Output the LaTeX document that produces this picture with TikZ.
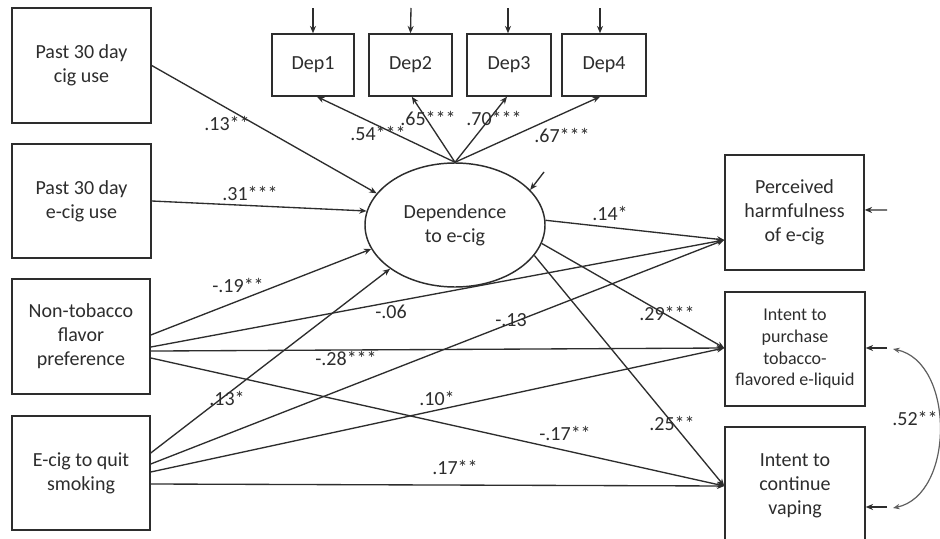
\documentclass[tikz,border=0pt]{standalone}
\usepackage{fontspec}
\setmainfont{Carlito}
\usetikzlibrary{arrows.meta,shapes.geometric}
\definecolor{ink}{RGB}{45,45,45}
\definecolor{curvegray}{RGB}{95,95,95}
\begin{document}
\begin{tikzpicture}[x=0.75pt,y=-0.75pt,
  box/.style={draw=ink, line width=1.1pt, align=center, inner sep=0pt, text=ink,
    font=\fontsize{15}{18}\selectfont},
  smallbox/.style={box, font=\fontsize{13.5}{16.3}\selectfont},
  lbl/.style={text=ink, inner sep=1pt, font=\fontsize{15}{18}\selectfont},
  arr/.style={draw=ink, line width=1pt, -{Stealth[length=5.5pt,width=4.5pt]}},
  dbl/.style={draw=curvegray, line width=0.9pt, {Stealth[length=5pt,width=4pt]}-{Stealth[length=5pt,width=4pt]}}]
\useasboundingbox (0,0) rectangle (940,539);
\clip (0,0) rectangle (940,539);
\fill[white] (0,0) rectangle (940,539);

% left boxes
\node[box, minimum width=104.25pt, minimum height=86.25pt] (b1) at (81.5,65.5) {Past 30 day\\cig use};
\node[box, minimum width=104.25pt, minimum height=85.5pt] (b2) at (81.5,201) {Past 30 day\\e-cig use};
\node[box, minimum width=103.5pt, minimum height=86.25pt] (b3) at (81,336.5) {Non-tobacco\\flavor\\preference};
\node[box, minimum width=103.5pt, minimum height=85.5pt] (b4) at (81,473) {E-cig to quit\\smoking};

% indicator boxes
\node[box, minimum width=61.5pt, minimum height=46.5pt] (d1) at (313,65) {Dep1};
\node[box, minimum width=62.25pt, minimum height=46.5pt] (d2) at (410.5,65) {Dep2};
\node[box, minimum width=63pt, minimum height=46.5pt] (d3) at (509,65) {Dep3};
\node[box, minimum width=63pt, minimum height=46.5pt] (d4) at (604,65) {Dep4};

% latent
\node[box, ellipse, minimum width=135pt, minimum height=93pt] (ell) at (455,225) {Dependence\\to e-cig};

% outcomes
\node[box, minimum width=104.25pt, minimum height=86.25pt] (perc) at (794.5,212.5) {Perceived\\harmfulness\\of e-cig};
\node[smallbox, minimum width=105pt, minimum height=85.5pt] (purch) at (795,349) {Intent to\\purchase\\tobacco-\\flavored e-liquid};
\node[box, minimum width=105pt, minimum height=88.5pt] (cont) at (795,486) {Intent to\\continue\\vaping};

% residual free ends
\coordinate (r1) at (313,8);
\coordinate (r2) at (411,8);
\coordinate (r3) at (508,8);
\coordinate (r4) at (600,8);
\coordinate (re) at (544,172);
\coordinate (rp) at (887,210);
\coordinate (ru) at (887,348);
\coordinate (rc) at (887,507);
\coordinate (cu) at (893,349);
\coordinate (cc) at (893,508);

% residual arrows
\draw[arr] (r1) -- (d1.north);
\draw[arr] (r2) -- (d2.north);
\draw[arr] (r3) -- ([xshift=-0.75pt]d3.north);
\draw[arr] (r4) -- ([xshift=-3pt]d4.north);
\draw[arr] (re) -- (ell.25.6);
\draw[arr] (rp) -- ([yshift=1.9pt]perc.east);
\draw[arr] (ru) -- ([yshift=0.75pt]purch.east);
\draw[arr] (rc) -- ([yshift=-15.75pt]cont.east);
\draw[dbl] (cu) .. controls (955,362) and (955,495) .. (cc);

% loadings
\draw[arr] (ell.north) -- ([xshift=3pt]d1.south);
\draw[arr] (ell.north) -- ([xshift=1pt]d2.south);
\draw[arr] (ell.north) -- ([xshift=-1.5pt]d3.south);
\draw[arr] (ell.north) -- ([xshift=-3pt]d4.south);

% predictors -> dependence
\draw[arr] (b1.east) -- (ell.158);
\draw[arr] (b2.east) -- (ell.171);
\draw[arr] ([yshift=1.1pt]b3.east) -- (ell.196);
\draw[arr] ([yshift=15pt]b4.east) -- (ell.214);

% predictors -> outcomes
\draw[arr] ([yshift=-7.9pt]b3.east) -- ([yshift=-20.6pt]perc.west);
\draw[arr] ([yshift=-10.9pt]b3.east) -- ([yshift=0.75pt]purch.west);
\draw[arr] ([yshift=-16.1pt]b3.east) -- (cont.west);
\draw[arr] ([yshift=6.75pt]b4.east) -- ([yshift=-20.6pt]perc.west);
\draw[arr] ([yshift=0.75pt]b4.east) -- ([yshift=0.75pt]purch.west);
\draw[arr] ([yshift=-8.25pt]b4.east) -- (cont.west);

% dependence -> outcomes
\draw[arr] (ell.3.8) -- ([yshift=-20.6pt]perc.west);
\draw[arr] (ell.-12.9) -- ([yshift=0.75pt]purch.west);
\draw[arr] (ell.-21.8) -- (cont.west);

% labels
\node[lbl] (l1) at (227,123) {.13**};
\node[lbl] (l2) at (250,193) {.31***};
\node[lbl] (l3) at (238,285) {-.19**};
\node[lbl] (l4) at (391,312) {-.06};
\node[lbl] (l5) at (346,358) {-.28***};
\node[lbl] (l6) at (227,398) {.13*};
\node[lbl] (l7) at (437,398) {.10*};
\node[lbl] (l8) at (455,467) {.17**};
\node[lbl] (l9) at (511,320) {-.13};
\node[lbl] (l10) at (667,313) {.29***};
\node[lbl] (l11) at (672,423) {.25**};
\node[lbl] (l12) at (565,433) {-.17**};
\node[lbl] (l13) at (610,213) {.14*};
\node[lbl] (l14) at (378,133) {.54***};
\node[lbl] (l15) at (428,118) {.65***};
\node[lbl] (l16) at (494,118) {.70***};
\node[lbl] (l17) at (562,135) {.67***};
\node[lbl] (l18) at (915,418) {.52**};
\end{tikzpicture}
\end{document}
